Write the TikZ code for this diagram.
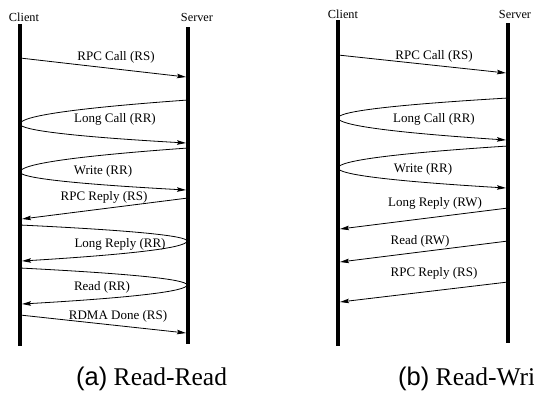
\documentclass[tikz,border=0pt]{standalone}
\usepackage{fontspec}
\setmainfont{Liberation Serif}
\setsansfont{Liberation Sans}
\usetikzlibrary{arrows.meta}
\begin{document}
\begin{tikzpicture}[x=1pt,y=-1pt,
 lifeline/.style={line width=3.6pt},
 msg/.style={line width=0.8pt,-{Stealth[length=9pt,width=4.5pt,inset=1.5pt]}},
 lbl/.style={font=\fontsize{13}{15}\selectfont, inner sep=0pt},
 who/.style={font=\fontsize{12.3}{14}\selectfont, inner sep=0pt},
 captxt/.style={font=\fontsize{25.5}{30}\selectfont, inner sep=0pt, anchor=base west}]
\useasboundingbox (0,0) rectangle (534,418);
\clip (0,0) rectangle (534,418);

% ---------- (a) Read-Read ----------
\coordinate (cAt) at (20,24);  \coordinate (cAb) at (20,346);
\coordinate (sAt) at (188,27); \coordinate (sAb) at (188,344);
\draw[lifeline] (cAt) -- (cAb);
\draw[lifeline] (sAt) -- (sAb);
\node[who] (clientA) at (24,17) {Client};
\node[who] (serverA) at (197,17) {Server};

\coordinate (a1s) at (20,58);  \coordinate (a1e) at (186,77);
\draw[msg] (a1s) -- (a1e);
\node[lbl] (la1) at (116,57) {RPC Call (RS)};

\coordinate (a2s) at (188,100); \coordinate (a2v) at (20,124); \coordinate (a2e) at (186,143);
\draw[msg] (a2s) .. controls +(-112,8) and +(0,-8) .. (a2v)
                 .. controls +(0,6.3) and +(-110.7,-6.3) .. (a2e);
\node[lbl] (la2) at (115,119.5) {Long Call (RR)};

\coordinate (a3s) at (188,148); \coordinate (a3v) at (20,172); \coordinate (a3e) at (186,190);
\draw[msg] (a3s) .. controls +(-112,8) and +(0,-8) .. (a3v)
                 .. controls +(0,6) and +(-110.7,-6) .. (a3e);
\node[lbl] (la3) at (103,171) {Write (RR)};

\coordinate (a4s) at (188,198); \coordinate (a4e) at (22,219);
\draw[msg] (a4s) -- (a4e);
\node[lbl] (la4) at (104,197) {RPC Reply (RS)};

\coordinate (a5s) at (20,225); \coordinate (a5v) at (187,241); \coordinate (a5e) at (22,261);
\draw[msg] (a5s) .. controls +(111,5.3) and +(0,-5.3) .. (a5v)
                 .. controls +(0,6.7) and +(110,-6.7) .. (a5e);
\node[lbl] (la5) at (120,244) {Long Reply (RR)};

\coordinate (a6s) at (20,268); \coordinate (a6v) at (187,285); \coordinate (a6e) at (22,304);
\draw[msg] (a6s) .. controls +(111,5.7) and +(0,-5.7) .. (a6v)
                 .. controls +(0,6.3) and +(110,-6.3) .. (a6e);
\node[lbl] (la6) at (102,287) {Read (RR)};

\coordinate (a7s) at (20,315); \coordinate (a7e) at (186,333);
\draw[msg] (a7s) -- (a7e);
\node[lbl] (la7) at (118,316) {RDMA Done (RS)};

\node[captxt] (capA) at (76,385) {{\sffamily (a)} Read-Read};

% ---------- (b) Read-Write ----------
\coordinate (cBt) at (338,20);  \coordinate (cBb) at (338,346);
\coordinate (sBt) at (508,23); \coordinate (sBb) at (508,343);
\draw[lifeline] (cBt) -- (cBb);
\draw[lifeline] (sBt) -- (sBb);
\node[who] (clientB) at (343,14) {Client};
\node[who] (serverB) at (515,14) {Server};

\coordinate (b1s) at (338,55);  \coordinate (b1e) at (506,73);
\draw[msg] (b1s) -- (b1e);
\node[lbl] (lb1) at (434,56) {RPC Call (RS)};

\coordinate (b2s) at (508,98); \coordinate (b2v) at (338,118); \coordinate (b2e) at (506,140);
\draw[msg] (b2s) .. controls +(-113.3,6.7) and +(0,-6.7) .. (b2v)
                 .. controls +(0,7.3) and +(-112,-7.3) .. (b2e);
\node[lbl] (lb2) at (434,119) {Long Call (RR)};

\coordinate (b3s) at (508,146); \coordinate (b3v) at (338,168); \coordinate (b3e) at (506,188);
\draw[msg] (b3s) .. controls +(-113.3,7.3) and +(0,-7.3) .. (b3v)
                 .. controls +(0,6.7) and +(-112,-6.7) .. (b3e);
\node[lbl] (lb3) at (423,169) {Write (RR)};

\coordinate (b4s) at (508,208); \coordinate (b4e) at (340,229);
\draw[msg] (b4s) -- (b4e);
\node[lbl] (lb4) at (435,203) {Long Reply (RW)};

\coordinate (b5s) at (508,241); \coordinate (b5e) at (340,262);
\draw[msg] (b5s) -- (b5e);
\node[lbl] (lb5) at (420,241) {Read (RW)};

\coordinate (b6s) at (508,282); \coordinate (b6e) at (340,302);
\draw[msg] (b6s) -- (b6e);
\node[lbl] (lb6) at (434,273) {RPC Reply (RS)};

\node[captxt] (capB) at (398,385) {{\sffamily (b)} Read-Write};
\end{tikzpicture}
\end{document}
